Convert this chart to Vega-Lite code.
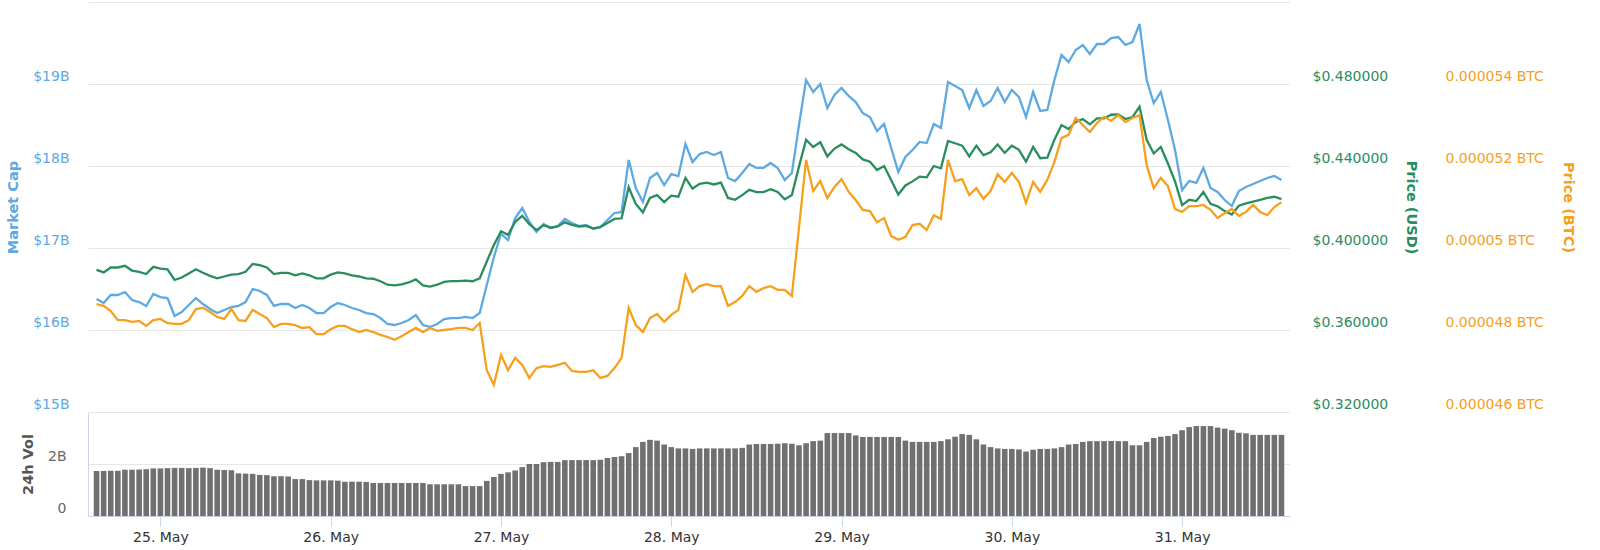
{
  "$schema": "https://vega.github.io/schema/vega-lite/v6.json",
  "description": "Market cap, price (USD), price (BTC) and 24h volume over seven days.",
  "width": 1202,
  "height": 514,
  "autosize": {"type": "none"},
  "padding": {"left": 88, "top": 2, "right": 310, "bottom": 34},
  "config": {
    "font": "DejaVu Sans",
    "axis": {"labelFont": "DejaVu Sans", "titleFont": "DejaVu Sans", "labelFontSize": 14, "titleFontSize": 14.5, "titleFontWeight": "bold"},
    "view": {"stroke": null}
  },
  "data": {
    "values": [
      {"t": "2019-05-24T15:00", "mcap": 16.378, "usd": 0.3893, "btc": 0.00004863, "vol": 1.73},
      {"t": "2019-05-24T16:00", "mcap": 16.329, "usd": 0.3881, "btc": 0.00004859, "vol": 1.73},
      {"t": "2019-05-24T17:00", "mcap": 16.427, "usd": 0.3905, "btc": 0.00004846, "vol": 1.74},
      {"t": "2019-05-24T18:00", "mcap": 16.427, "usd": 0.3905, "btc": 0.00004824, "vol": 1.74},
      {"t": "2019-05-24T19:00", "mcap": 16.463, "usd": 0.3913, "btc": 0.00004824, "vol": 1.78},
      {"t": "2019-05-24T20:00", "mcap": 16.366, "usd": 0.3890, "btc": 0.00004820, "vol": 1.78},
      {"t": "2019-05-24T21:00", "mcap": 16.341, "usd": 0.3884, "btc": 0.00004822, "vol": 1.79},
      {"t": "2019-05-24T22:00", "mcap": 16.293, "usd": 0.3873, "btc": 0.00004810, "vol": 1.80},
      {"t": "2019-05-24T23:00", "mcap": 16.439, "usd": 0.3908, "btc": 0.00004824, "vol": 1.83},
      {"t": "2019-05-25T00:00", "mcap": 16.402, "usd": 0.3899, "btc": 0.00004827, "vol": 1.83},
      {"t": "2019-05-25T01:00", "mcap": 16.390, "usd": 0.3896, "btc": 0.00004817, "vol": 1.84},
      {"t": "2019-05-25T02:00", "mcap": 16.171, "usd": 0.3844, "btc": 0.00004815, "vol": 1.85},
      {"t": "2019-05-25T03:00", "mcap": 16.220, "usd": 0.3856, "btc": 0.00004815, "vol": 1.85},
      {"t": "2019-05-25T04:00", "mcap": 16.305, "usd": 0.3876, "btc": 0.00004824, "vol": 1.84},
      {"t": "2019-05-25T05:00", "mcap": 16.390, "usd": 0.3896, "btc": 0.00004851, "vol": 1.85},
      {"t": "2019-05-25T06:00", "mcap": 16.317, "usd": 0.3879, "btc": 0.00004854, "vol": 1.86},
      {"t": "2019-05-25T07:00", "mcap": 16.256, "usd": 0.3864, "btc": 0.00004844, "vol": 1.84},
      {"t": "2019-05-25T08:00", "mcap": 16.207, "usd": 0.3852, "btc": 0.00004832, "vol": 1.78},
      {"t": "2019-05-25T09:00", "mcap": 16.244, "usd": 0.3861, "btc": 0.00004827, "vol": 1.77},
      {"t": "2019-05-25T10:00", "mcap": 16.280, "usd": 0.3870, "btc": 0.00004851, "vol": 1.76},
      {"t": "2019-05-25T11:00", "mcap": 16.293, "usd": 0.3873, "btc": 0.00004824, "vol": 1.64},
      {"t": "2019-05-25T12:00", "mcap": 16.341, "usd": 0.3884, "btc": 0.00004822, "vol": 1.63},
      {"t": "2019-05-25T13:00", "mcap": 16.500, "usd": 0.3922, "btc": 0.00004849, "vol": 1.62},
      {"t": "2019-05-25T14:00", "mcap": 16.476, "usd": 0.3916, "btc": 0.00004839, "vol": 1.58},
      {"t": "2019-05-25T15:00", "mcap": 16.427, "usd": 0.3905, "btc": 0.00004829, "vol": 1.57},
      {"t": "2019-05-25T16:00", "mcap": 16.293, "usd": 0.3873, "btc": 0.00004807, "vol": 1.53},
      {"t": "2019-05-25T17:00", "mcap": 16.317, "usd": 0.3879, "btc": 0.00004815, "vol": 1.53},
      {"t": "2019-05-25T18:00", "mcap": 16.317, "usd": 0.3879, "btc": 0.00004815, "vol": 1.52},
      {"t": "2019-05-25T19:00", "mcap": 16.268, "usd": 0.3867, "btc": 0.00004812, "vol": 1.42},
      {"t": "2019-05-25T20:00", "mcap": 16.305, "usd": 0.3876, "btc": 0.00004805, "vol": 1.42},
      {"t": "2019-05-25T21:00", "mcap": 16.268, "usd": 0.3867, "btc": 0.00004807, "vol": 1.38},
      {"t": "2019-05-25T22:00", "mcap": 16.207, "usd": 0.3852, "btc": 0.00004790, "vol": 1.37},
      {"t": "2019-05-25T23:00", "mcap": 16.207, "usd": 0.3852, "btc": 0.00004790, "vol": 1.37},
      {"t": "2019-05-26T00:00", "mcap": 16.280, "usd": 0.3870, "btc": 0.00004802, "vol": 1.37},
      {"t": "2019-05-26T01:00", "mcap": 16.329, "usd": 0.3881, "btc": 0.00004810, "vol": 1.36},
      {"t": "2019-05-26T02:00", "mcap": 16.305, "usd": 0.3876, "btc": 0.00004810, "vol": 1.32},
      {"t": "2019-05-26T03:00", "mcap": 16.268, "usd": 0.3867, "btc": 0.00004802, "vol": 1.32},
      {"t": "2019-05-26T04:00", "mcap": 16.244, "usd": 0.3861, "btc": 0.00004795, "vol": 1.32},
      {"t": "2019-05-26T05:00", "mcap": 16.207, "usd": 0.3852, "btc": 0.00004800, "vol": 1.31},
      {"t": "2019-05-26T06:00", "mcap": 16.195, "usd": 0.3850, "btc": 0.00004795, "vol": 1.27},
      {"t": "2019-05-26T07:00", "mcap": 16.146, "usd": 0.3838, "btc": 0.00004788, "vol": 1.27},
      {"t": "2019-05-26T08:00", "mcap": 16.073, "usd": 0.3821, "btc": 0.00004783, "vol": 1.27},
      {"t": "2019-05-26T09:00", "mcap": 16.061, "usd": 0.3818, "btc": 0.00004776, "vol": 1.27},
      {"t": "2019-05-26T10:00", "mcap": 16.085, "usd": 0.3823, "btc": 0.00004785, "vol": 1.27},
      {"t": "2019-05-26T11:00", "mcap": 16.122, "usd": 0.3832, "btc": 0.00004795, "vol": 1.27},
      {"t": "2019-05-26T12:00", "mcap": 16.183, "usd": 0.3847, "btc": 0.00004805, "vol": 1.27},
      {"t": "2019-05-26T13:00", "mcap": 16.061, "usd": 0.3818, "btc": 0.00004795, "vol": 1.27},
      {"t": "2019-05-26T14:00", "mcap": 16.037, "usd": 0.3812, "btc": 0.00004805, "vol": 1.22},
      {"t": "2019-05-26T15:00", "mcap": 16.073, "usd": 0.3821, "btc": 0.00004798, "vol": 1.22},
      {"t": "2019-05-26T16:00", "mcap": 16.134, "usd": 0.3835, "btc": 0.00004800, "vol": 1.22},
      {"t": "2019-05-26T17:00", "mcap": 16.146, "usd": 0.3838, "btc": 0.00004802, "vol": 1.22},
      {"t": "2019-05-26T18:00", "mcap": 16.146, "usd": 0.3838, "btc": 0.00004805, "vol": 1.22},
      {"t": "2019-05-26T19:00", "mcap": 16.159, "usd": 0.3841, "btc": 0.00004805, "vol": 1.15},
      {"t": "2019-05-26T20:00", "mcap": 16.146, "usd": 0.3838, "btc": 0.00004800, "vol": 1.15},
      {"t": "2019-05-26T21:00", "mcap": 16.207, "usd": 0.3852, "btc": 0.00004817, "vol": 1.15},
      {"t": "2019-05-26T22:00", "mcap": 16.549, "usd": 0.3934, "btc": 0.00004702, "vol": 1.35},
      {"t": "2019-05-26T23:00", "mcap": 16.890, "usd": 0.4015, "btc": 0.00004666, "vol": 1.50},
      {"t": "2019-05-27T00:00", "mcap": 17.171, "usd": 0.4082, "btc": 0.00004739, "vol": 1.62},
      {"t": "2019-05-27T01:00", "mcap": 17.098, "usd": 0.4064, "btc": 0.00004702, "vol": 1.68},
      {"t": "2019-05-27T02:00", "mcap": 17.366, "usd": 0.4128, "btc": 0.00004732, "vol": 1.75},
      {"t": "2019-05-27T03:00", "mcap": 17.488, "usd": 0.4157, "btc": 0.00004715, "vol": 1.88},
      {"t": "2019-05-27T04:00", "mcap": 17.317, "usd": 0.4116, "btc": 0.00004683, "vol": 2.00},
      {"t": "2019-05-27T05:00", "mcap": 17.195, "usd": 0.4087, "btc": 0.00004707, "vol": 2.00},
      {"t": "2019-05-27T06:00", "mcap": 17.293, "usd": 0.4111, "btc": 0.00004712, "vol": 2.07},
      {"t": "2019-05-27T07:00", "mcap": 17.244, "usd": 0.4099, "btc": 0.00004710, "vol": 2.08},
      {"t": "2019-05-27T08:00", "mcap": 17.268, "usd": 0.4105, "btc": 0.00004715, "vol": 2.08},
      {"t": "2019-05-27T09:00", "mcap": 17.354, "usd": 0.4125, "btc": 0.00004720, "vol": 2.15},
      {"t": "2019-05-27T10:00", "mcap": 17.305, "usd": 0.4113, "btc": 0.00004700, "vol": 2.15},
      {"t": "2019-05-27T11:00", "mcap": 17.268, "usd": 0.4105, "btc": 0.00004698, "vol": 2.15},
      {"t": "2019-05-27T12:00", "mcap": 17.280, "usd": 0.4108, "btc": 0.00004698, "vol": 2.15},
      {"t": "2019-05-27T13:00", "mcap": 17.232, "usd": 0.4096, "btc": 0.00004702, "vol": 2.15},
      {"t": "2019-05-27T14:00", "mcap": 17.256, "usd": 0.4102, "btc": 0.00004683, "vol": 2.16},
      {"t": "2019-05-27T15:00", "mcap": 17.341, "usd": 0.4122, "btc": 0.00004688, "vol": 2.23},
      {"t": "2019-05-27T16:00", "mcap": 17.427, "usd": 0.4142, "btc": 0.00004707, "vol": 2.27},
      {"t": "2019-05-27T17:00", "mcap": 17.439, "usd": 0.4145, "btc": 0.00004732, "vol": 2.30},
      {"t": "2019-05-27T18:00", "mcap": 18.073, "usd": 0.4296, "btc": 0.00004854, "vol": 2.42},
      {"t": "2019-05-27T19:00", "mcap": 17.732, "usd": 0.4215, "btc": 0.00004812, "vol": 2.65},
      {"t": "2019-05-27T20:00", "mcap": 17.561, "usd": 0.4174, "btc": 0.00004795, "vol": 2.85},
      {"t": "2019-05-27T21:00", "mcap": 17.854, "usd": 0.4244, "btc": 0.00004829, "vol": 2.93},
      {"t": "2019-05-27T22:00", "mcap": 17.915, "usd": 0.4258, "btc": 0.00004839, "vol": 2.90},
      {"t": "2019-05-27T23:00", "mcap": 17.768, "usd": 0.4224, "btc": 0.00004820, "vol": 2.75},
      {"t": "2019-05-28T00:00", "mcap": 17.902, "usd": 0.4255, "btc": 0.00004837, "vol": 2.65},
      {"t": "2019-05-28T01:00", "mcap": 17.878, "usd": 0.4250, "btc": 0.00004849, "vol": 2.60},
      {"t": "2019-05-28T02:00", "mcap": 18.268, "usd": 0.4342, "btc": 0.00004934, "vol": 2.60},
      {"t": "2019-05-28T03:00", "mcap": 18.049, "usd": 0.4290, "btc": 0.00004893, "vol": 2.58},
      {"t": "2019-05-28T04:00", "mcap": 18.146, "usd": 0.4313, "btc": 0.00004907, "vol": 2.60},
      {"t": "2019-05-28T05:00", "mcap": 18.171, "usd": 0.4319, "btc": 0.00004912, "vol": 2.60},
      {"t": "2019-05-28T06:00", "mcap": 18.134, "usd": 0.4310, "btc": 0.00004907, "vol": 2.60},
      {"t": "2019-05-28T07:00", "mcap": 18.171, "usd": 0.4319, "btc": 0.00004907, "vol": 2.60},
      {"t": "2019-05-28T08:00", "mcap": 17.854, "usd": 0.4244, "btc": 0.00004859, "vol": 2.60},
      {"t": "2019-05-28T09:00", "mcap": 17.817, "usd": 0.4235, "btc": 0.00004868, "vol": 2.60},
      {"t": "2019-05-28T10:00", "mcap": 17.915, "usd": 0.4258, "btc": 0.00004883, "vol": 2.62},
      {"t": "2019-05-28T11:00", "mcap": 18.024, "usd": 0.4284, "btc": 0.00004907, "vol": 2.75},
      {"t": "2019-05-28T12:00", "mcap": 17.976, "usd": 0.4273, "btc": 0.00004893, "vol": 2.77},
      {"t": "2019-05-28T13:00", "mcap": 17.976, "usd": 0.4273, "btc": 0.00004902, "vol": 2.77},
      {"t": "2019-05-28T14:00", "mcap": 18.037, "usd": 0.4287, "btc": 0.00004907, "vol": 2.77},
      {"t": "2019-05-28T15:00", "mcap": 17.976, "usd": 0.4273, "btc": 0.00004898, "vol": 2.78},
      {"t": "2019-05-28T16:00", "mcap": 17.829, "usd": 0.4238, "btc": 0.00004898, "vol": 2.80},
      {"t": "2019-05-28T17:00", "mcap": 17.915, "usd": 0.4258, "btc": 0.00004883, "vol": 2.78},
      {"t": "2019-05-28T18:00", "mcap": 18.500, "usd": 0.4397, "btc": 0.00005049, "vol": 2.72},
      {"t": "2019-05-28T19:00", "mcap": 19.049, "usd": 0.4528, "btc": 0.00005215, "vol": 2.80},
      {"t": "2019-05-28T20:00", "mcap": 18.902, "usd": 0.4493, "btc": 0.00005139, "vol": 2.88},
      {"t": "2019-05-28T21:00", "mcap": 19.000, "usd": 0.4516, "btc": 0.00005163, "vol": 2.90},
      {"t": "2019-05-28T22:00", "mcap": 18.707, "usd": 0.4447, "btc": 0.00005122, "vol": 3.19},
      {"t": "2019-05-28T23:00", "mcap": 18.866, "usd": 0.4485, "btc": 0.00005149, "vol": 3.19},
      {"t": "2019-05-29T00:00", "mcap": 18.951, "usd": 0.4505, "btc": 0.00005168, "vol": 3.19},
      {"t": "2019-05-29T01:00", "mcap": 18.854, "usd": 0.4482, "btc": 0.00005137, "vol": 3.19},
      {"t": "2019-05-29T02:00", "mcap": 18.780, "usd": 0.4464, "btc": 0.00005117, "vol": 3.10},
      {"t": "2019-05-29T03:00", "mcap": 18.646, "usd": 0.4432, "btc": 0.00005093, "vol": 3.04},
      {"t": "2019-05-29T04:00", "mcap": 18.598, "usd": 0.4421, "btc": 0.00005090, "vol": 3.04},
      {"t": "2019-05-29T05:00", "mcap": 18.427, "usd": 0.4380, "btc": 0.00005063, "vol": 3.04},
      {"t": "2019-05-29T06:00", "mcap": 18.512, "usd": 0.4400, "btc": 0.00005073, "vol": 3.04},
      {"t": "2019-05-29T07:00", "mcap": 18.220, "usd": 0.4331, "btc": 0.00005029, "vol": 3.04},
      {"t": "2019-05-29T08:00", "mcap": 17.927, "usd": 0.4261, "btc": 0.00005020, "vol": 3.04},
      {"t": "2019-05-29T09:00", "mcap": 18.110, "usd": 0.4305, "btc": 0.00005027, "vol": 2.90},
      {"t": "2019-05-29T10:00", "mcap": 18.195, "usd": 0.4325, "btc": 0.00005056, "vol": 2.85},
      {"t": "2019-05-29T11:00", "mcap": 18.293, "usd": 0.4348, "btc": 0.00005059, "vol": 2.85},
      {"t": "2019-05-29T12:00", "mcap": 18.280, "usd": 0.4345, "btc": 0.00005044, "vol": 2.85},
      {"t": "2019-05-29T13:00", "mcap": 18.512, "usd": 0.4400, "btc": 0.00005080, "vol": 2.85},
      {"t": "2019-05-29T14:00", "mcap": 18.463, "usd": 0.4389, "btc": 0.00005071, "vol": 2.88},
      {"t": "2019-05-29T15:00", "mcap": 19.024, "usd": 0.4522, "btc": 0.00005215, "vol": 2.95},
      {"t": "2019-05-29T16:00", "mcap": 18.976, "usd": 0.4511, "btc": 0.00005163, "vol": 3.05},
      {"t": "2019-05-29T17:00", "mcap": 18.927, "usd": 0.4499, "btc": 0.00005168, "vol": 3.15},
      {"t": "2019-05-29T18:00", "mcap": 18.707, "usd": 0.4447, "btc": 0.00005129, "vol": 3.12},
      {"t": "2019-05-29T19:00", "mcap": 18.927, "usd": 0.4499, "btc": 0.00005146, "vol": 2.95},
      {"t": "2019-05-29T20:00", "mcap": 18.732, "usd": 0.4453, "btc": 0.00005120, "vol": 2.75},
      {"t": "2019-05-29T21:00", "mcap": 18.793, "usd": 0.4467, "btc": 0.00005139, "vol": 2.65},
      {"t": "2019-05-29T22:00", "mcap": 18.951, "usd": 0.4505, "btc": 0.00005180, "vol": 2.60},
      {"t": "2019-05-29T23:00", "mcap": 18.780, "usd": 0.4464, "btc": 0.00005161, "vol": 2.58},
      {"t": "2019-05-30T00:00", "mcap": 18.927, "usd": 0.4499, "btc": 0.00005183, "vol": 2.58},
      {"t": "2019-05-30T01:00", "mcap": 18.841, "usd": 0.4479, "btc": 0.00005161, "vol": 2.56},
      {"t": "2019-05-30T02:00", "mcap": 18.598, "usd": 0.4421, "btc": 0.00005110, "vol": 2.48},
      {"t": "2019-05-30T03:00", "mcap": 18.902, "usd": 0.4493, "btc": 0.00005161, "vol": 2.55},
      {"t": "2019-05-30T04:00", "mcap": 18.671, "usd": 0.4438, "btc": 0.00005137, "vol": 2.58},
      {"t": "2019-05-30T05:00", "mcap": 18.683, "usd": 0.4441, "btc": 0.00005166, "vol": 2.58},
      {"t": "2019-05-30T06:00", "mcap": 19.049, "usd": 0.4528, "btc": 0.00005210, "vol": 2.60},
      {"t": "2019-05-30T07:00", "mcap": 19.354, "usd": 0.4600, "btc": 0.00005268, "vol": 2.65},
      {"t": "2019-05-30T08:00", "mcap": 19.268, "usd": 0.4580, "btc": 0.00005276, "vol": 2.75},
      {"t": "2019-05-30T09:00", "mcap": 19.415, "usd": 0.4615, "btc": 0.00005317, "vol": 2.77},
      {"t": "2019-05-30T10:00", "mcap": 19.476, "usd": 0.4629, "btc": 0.00005300, "vol": 2.85},
      {"t": "2019-05-30T11:00", "mcap": 19.366, "usd": 0.4603, "btc": 0.00005283, "vol": 2.88},
      {"t": "2019-05-30T12:00", "mcap": 19.488, "usd": 0.4632, "btc": 0.00005305, "vol": 2.88},
      {"t": "2019-05-30T13:00", "mcap": 19.488, "usd": 0.4632, "btc": 0.00005320, "vol": 2.88},
      {"t": "2019-05-30T14:00", "mcap": 19.561, "usd": 0.4650, "btc": 0.00005310, "vol": 2.88},
      {"t": "2019-05-30T15:00", "mcap": 19.573, "usd": 0.4652, "btc": 0.00005324, "vol": 2.88},
      {"t": "2019-05-30T16:00", "mcap": 19.476, "usd": 0.4629, "btc": 0.00005307, "vol": 2.88},
      {"t": "2019-05-30T17:00", "mcap": 19.512, "usd": 0.4638, "btc": 0.00005317, "vol": 2.72},
      {"t": "2019-05-30T18:00", "mcap": 19.732, "usd": 0.4690, "btc": 0.00005324, "vol": 2.72},
      {"t": "2019-05-30T19:00", "mcap": 19.049, "usd": 0.4528, "btc": 0.00005202, "vol": 2.85},
      {"t": "2019-05-30T20:00", "mcap": 18.768, "usd": 0.4461, "btc": 0.00005146, "vol": 3.00},
      {"t": "2019-05-30T21:00", "mcap": 18.902, "usd": 0.4493, "btc": 0.00005171, "vol": 3.05},
      {"t": "2019-05-30T22:00", "mcap": 18.561, "usd": 0.4412, "btc": 0.00005151, "vol": 3.08},
      {"t": "2019-05-30T23:00", "mcap": 18.195, "usd": 0.4325, "btc": 0.00005095, "vol": 3.15},
      {"t": "2019-05-31T00:00", "mcap": 17.707, "usd": 0.4209, "btc": 0.00005088, "vol": 3.30},
      {"t": "2019-05-31T01:00", "mcap": 17.817, "usd": 0.4235, "btc": 0.00005102, "vol": 3.42},
      {"t": "2019-05-31T02:00", "mcap": 17.793, "usd": 0.4229, "btc": 0.00005102, "vol": 3.46},
      {"t": "2019-05-31T03:00", "mcap": 17.976, "usd": 0.4273, "btc": 0.00005105, "vol": 3.46},
      {"t": "2019-05-31T04:00", "mcap": 17.732, "usd": 0.4215, "btc": 0.00005093, "vol": 3.46},
      {"t": "2019-05-31T05:00", "mcap": 17.683, "usd": 0.4203, "btc": 0.00005073, "vol": 3.40},
      {"t": "2019-05-31T06:00", "mcap": 17.585, "usd": 0.4180, "btc": 0.00005085, "vol": 3.36},
      {"t": "2019-05-31T07:00", "mcap": 17.512, "usd": 0.4163, "btc": 0.00005095, "vol": 3.30},
      {"t": "2019-05-31T08:00", "mcap": 17.695, "usd": 0.4206, "btc": 0.00005078, "vol": 3.20},
      {"t": "2019-05-31T09:00", "mcap": 17.744, "usd": 0.4218, "btc": 0.00005088, "vol": 3.18},
      {"t": "2019-05-31T10:00", "mcap": 17.780, "usd": 0.4226, "btc": 0.00005105, "vol": 3.12},
      {"t": "2019-05-31T11:00", "mcap": 17.817, "usd": 0.4235, "btc": 0.00005088, "vol": 3.12},
      {"t": "2019-05-31T12:00", "mcap": 17.854, "usd": 0.4244, "btc": 0.00005080, "vol": 3.12},
      {"t": "2019-05-31T13:00", "mcap": 17.878, "usd": 0.4250, "btc": 0.00005100, "vol": 3.12},
      {"t": "2019-05-31T14:00", "mcap": 17.829, "usd": 0.4238, "btc": 0.00005112, "vol": 3.12}
    ]
  },
  "encoding": {
    "x": {
      "field": "t",
      "type": "temporal",
      "scale": {
        "domain": [
          {"year": 2019, "month": 5, "date": 24, "hours": 14, "minutes": 30},
          {"year": 2019, "month": 5, "date": 31, "hours": 14, "minutes": 30}
        ]
      },
      "axis": {
        "title": null,
        "format": "%d. %b",
        "tickCount": {"interval": "day", "step": 1},
        "grid": false,
        "domainColor": "#ccd6eb",
        "tickColor": "#ccd6eb",
        "tickSize": 10,
        "labelPadding": 4,
        "labelColor": "#333333"
      }
    }
  },
  "layer": [
    {
      "mark": {"type": "bar", "width": 5.6, "color": "#707070"},
      "encoding": {
        "y": {
          "field": "vol",
          "type": "quantitative",
          "scale": {"domain": [0, 4], "range": [514, 410], "nice": false},
          "axis": {
            "orient": "left",
            "values": [0, 2],
            "grid": true,
            "gridColor": "#e6e6e6",
            "domain": true,
            "domainColor": "#ccd6eb",
            "ticks": false,
            "labelPadding": 22,
            "labelOffset": -8,
            "labelColor": "#666666",
            "labelExpr": "datum.value == 0 ? '0' : datum.value + 'B'",
            "title": "24h Vol",
            "titleColor": "#555555",
            "titleX": -60,
            "titleBaseline": "middle"
          }
        }
      }
    },
    {
      "mark": {"type": "line", "color": "#5DA9E1", "strokeWidth": 2.3},
      "encoding": {
        "y": {
          "field": "mcap",
          "type": "quantitative",
          "scale": {"domain": [15, 20], "range": [410, 0], "nice": false, "zero": false},
          "axis": {
            "orient": "left",
            "values": [15, 16, 17, 18, 19, 20],
            "grid": true,
            "gridColor": "#e6e6e6",
            "domain": false,
            "ticks": false,
            "labelPadding": 19,
            "labelOffset": -8,
            "labelColor": "#5DA9E1",
            "labelExpr": "datum.value >= 20 ? '' : '$' + datum.value + 'B'",
            "title": "Market Cap",
            "titleColor": "#5DA9E1",
            "titleX": -75,
            "titleBaseline": "middle"
          }
        }
      }
    },
    {
      "mark": {"type": "line", "color": "#2A8D5E", "strokeWidth": 2.3},
      "encoding": {
        "y": {
          "field": "usd",
          "type": "quantitative",
          "scale": {"domain": [0.32, 0.52], "range": [410, 0], "nice": false, "zero": false},
          "axis": {
            "orient": "right",
            "values": [0.32, 0.36, 0.40, 0.44, 0.48, 0.52],
            "grid": false,
            "domain": false,
            "ticks": false,
            "labelPadding": 22,
            "labelOffset": -8,
            "labelColor": "#2A8D5E",
            "labelExpr": "datum.value > 0.5 ? '' : '$' + format(datum.value, '.6f')",
            "title": "Price (USD)",
            "titleColor": "#2A8D5E",
            "titleX": 120,
            "titleBaseline": "middle"
          }
        }
      }
    },
    {
      "mark": {"type": "line", "color": "#F5A01E", "strokeWidth": 2.3},
      "encoding": {
        "y": {
          "field": "btc",
          "type": "quantitative",
          "scale": {"domain": [0.000046, 0.000056], "range": [410, 0], "nice": false, "zero": false},
          "axis": {
            "orient": "right",
            "offset": 133,
            "values": [0.000046, 0.000048, 0.00005, 0.000052, 0.000054, 0.000056],
            "grid": false,
            "domain": false,
            "ticks": false,
            "labelPadding": 22,
            "labelOffset": -8,
            "labelColor": "#F5A01E",
            "labelExpr": "datum.value > 0.0000555 ? '' : format(datum.value, '.6~f') + ' BTC'",
            "title": "Price (BTC)",
            "titleColor": "#F5A01E",
            "titleX": 144,
            "titleBaseline": "middle"
          }
        }
      }
    }
  ],
  "resolve": {"scale": {"y": "independent"}, "axis": {"y": "independent"}}
}
